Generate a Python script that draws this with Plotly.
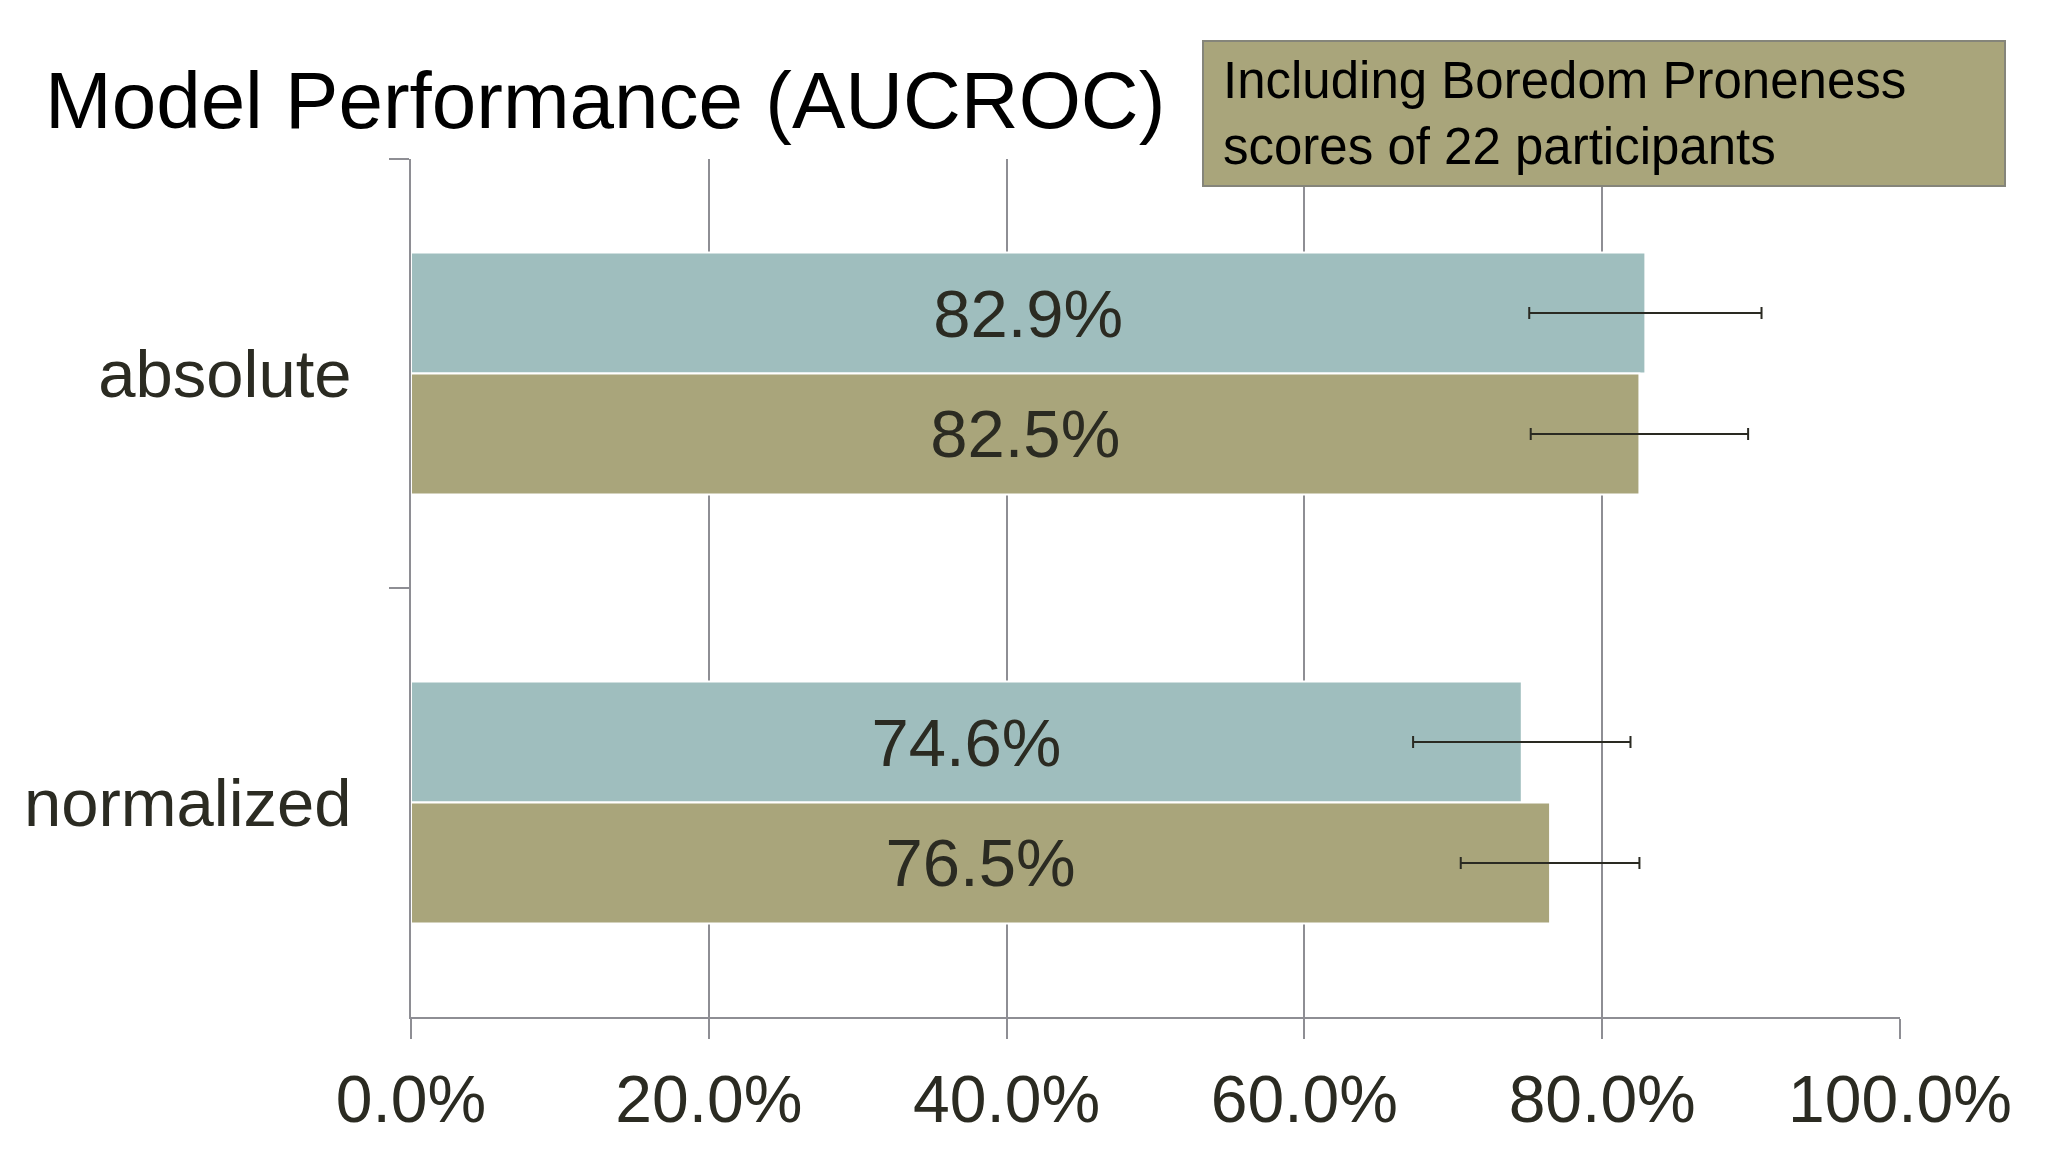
import plotly.graph_objects as go

categories = ["absolute", "normalized"]
teal_values = [82.9, 74.6]
teal_errors = [7.8, 7.3]
khaki_values = [82.5, 76.5]
khaki_errors = [7.3, 6.0]
x_ticks = [0, 20, 40, 60, 80, 100]
x_tick_labels = [f"{v:.1f}%" for v in x_ticks]

TEAL = "#9fbebe"
KHAKI = "#a9a57b"
GRID = "#8e8e94"
TEXT = "#2b2b22"
FONT = "Liberation Sans, Arial, sans-serif"

W, H = 2048, 1152
L, R, T, B = 403, 156, 151, 143
PW, PH = W - L - R, H - T - B


def px_x(x):
    return (x - L) / PW


def px_y(y):
    return (H - B - y) / PH


def bar_trace(values, errors, color):
    return go.Bar(
        y=categories,
        x=values,
        orientation="h",
        marker=dict(color=color, line=dict(color="white", width=2)),
        error_x=dict(type="data", array=errors, color="#2a2a22", thickness=2, width=6),
        texttemplate="%{x:.1f}%",
        textposition="inside",
        insidetextanchor="middle",
        textangle=0,
        constraintext="none",
        textfont=dict(size=67, color=TEXT, family=FONT),
        showlegend=False,
    )


fig = go.Figure()
fig.add_trace(bar_trace(teal_values, teal_errors, TEAL))
fig.add_trace(bar_trace(khaki_values, khaki_errors, KHAKI))

fig.update_layout(
    width=W,
    height=H,
    margin=dict(l=L, r=R, t=T, b=B),
    paper_bgcolor="white",
    plot_bgcolor="white",
    barmode="group",
    bargap=0.436,
    bargroupgap=0,
    font=dict(family=FONT, color=TEXT),
    title=dict(
        text="Model Performance (AUCROC)",
        font=dict(size=80, color="black", family=FONT),
        x=37 / W,
        xanchor="left",
        xref="container",
        y=1 - 92 / H,
        yanchor="middle",
        yref="container",
    ),
    xaxis=dict(
        range=[0, 100],
        tickvals=x_ticks,
        ticktext=x_tick_labels,
        showgrid=True,
        gridcolor=GRID,
        gridwidth=2,
        zeroline=False,
        showline=True,
        linecolor=GRID,
        linewidth=2,
        ticks="outside",
        ticklen=20,
        tickwidth=2,
        tickcolor=GRID,
        tickfont=dict(size=66, color=TEXT),
        ticklabelstandoff=4,
    ),
    yaxis=dict(
        autorange="reversed",
        tickson="boundaries",
        showgrid=False,
        showline=True,
        linecolor=GRID,
        linewidth=2,
        ticks="outside",
        ticklen=20,
        tickwidth=2,
        tickcolor=GRID,
        tickfont=dict(size=67, color=TEXT),
        ticklabelstandoff=44,
    ),
)

# note box in the top-right corner
fig.add_shape(
    type="rect",
    xref="paper",
    yref="paper",
    x0=px_x(1195),
    x1=px_x(1997),
    y0=px_y(178),
    y1=px_y(33),
    fillcolor=KHAKI,
    line=dict(color="#85857a", width=2),
    layer="above",
)
fig.add_annotation(
    text="Including Boredom Proneness<br>scores of 22 participants",
    xref="paper",
    yref="paper",
    x=px_x(1213),
    y=px_y(106),
    xanchor="left",
    yanchor="middle",
    align="left",
    showarrow=False,
    font=dict(size=51, color="black", family=FONT),
)

fig.write_html("out.html")
